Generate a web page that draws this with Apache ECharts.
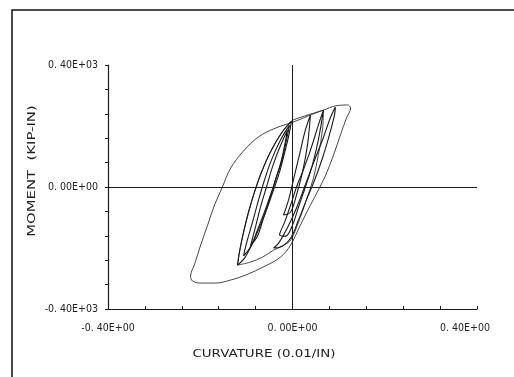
<!DOCTYPE html>
<html>
<head>
<meta charset="utf-8">
<script src="https://cdn.jsdelivr.net/npm/echarts@6/dist/echarts.min.js"></script>
<style>
  html, body { margin: 0; padding: 0; background: #fff; }
  #chart { width: 514px; height: 377px; }
</style>
</head>
<body>
<div id="chart"></div>
<script>
// moment-curvature hysteresis, values
const xLabelValues = [-0.4, 0, 0.4];
const xLabelTexts = ["-0. 40E+00", "0. 00E+00", "0. 40E+00"];
const yLabelValues = [-400, 0, 400];
const yLabelTexts = ["-0. 40E+03", "0. 00E+00", "0. 40E+03"];

const outerLoop = [
  [0.121, 269], [0.093, 266], [0.067, 252], [0.039, 236], [0.007, 216], [-0.037, 193],
  [-0.074, 164], [-0.108, 115], [-0.134, 62], [-0.152, 0], [-0.169, -59], [-0.184, -125],
  [-0.199, -190], [-0.212, -252], [-0.221, -292], [-0.217, -308], [-0.199, -315], [-0.167, -315],
  [-0.134, -305], [-0.102, -289], [-0.059, -259], [-0.026, -230], [-0.004, -190], [0.017, -125],
  [0.039, -59], [0.056, -10], [0.072, 39], [0.089, 105], [0.104, 171], [0.117, 226],
  [0.126, 259], [0.121, 269]
];
const midLoop = [
  [0.067, 252], [0.039, 239], [0.013, 226], [-0.002, 216], [-0.024, 177], [-0.048, 115],
  [-0.067, 49], [-0.082, -16], [-0.095, -82], [-0.106, -148], [-0.115, -213], [-0.119, -256],
  [-0.091, -246], [-0.065, -230], [-0.041, -207], [-0.022, -193], [-0.004, -174], [0.013, -115],
  [0.030, -43], [0.0455, 30], [0.056, 105], [0.065, 187], [0.067, 252]
];
const leftLoop1 = [
  [-0.0022, 216], [-0.0238, 177], [-0.0477, 115], [-0.0672, 49], [-0.0824, -16], [-0.0954, -82],
  [-0.1062, -148], [-0.1149, -213], [-0.1192, -256], [-0.1041, -233], [-0.0867, -184], [-0.0694, -125],
  [-0.0542, -66], [-0.0412, -10], [-0.0282, 49], [-0.0173, 111], [-0.0087, 164], [-0.0022, 216]
];
const leftLoop2 = [
  [-0.0065, 203], [-0.026, 154], [-0.0455, 89], [-0.0607, 23], [-0.0737, -43], [-0.0867, -115],
  [-0.0997, -184], [-0.1062, -226], [-0.0911, -197], [-0.0759, -141], [-0.0607, -82], [-0.0477, -26],
  [-0.0347, 33], [-0.0217, 95], [-0.013, 154], [-0.0065, 203]
];
const leftLoop3 = [
  [-0.0108, 187], [-0.0282, 128], [-0.0434, 66], [-0.0564, 0], [-0.0694, -66], [-0.0802, -131],
  [-0.0911, -193], [-0.0759, -161], [-0.0629, -102], [-0.0499, -43], [-0.0369, 23], [-0.0238, 89],
  [-0.0108, 187]
];
const rightLoop1 = [
  [0.093, 262], [0.082, 226], [0.065, 154], [0.0455, 79], [0.026, 0], [0.0087, -69],
  [-0.011, -134], [-0.030, -184], [-0.041, -200], [-0.026, -197], [-0.004, -167], [0.013, -108],
  [0.030, -43], [0.048, 23], [0.065, 95], [0.080, 171], [0.091, 236], [0.093, 262]
];
const rightLoop2 = [
  [0.067, 252], [0.056, 203], [0.039, 121], [0.0217, 49], [0.0087, 0], [-0.004, -59],
  [-0.017, -115], [-0.028, -157], [-0.015, -161], [0, -125], [0.013, -66], [0.028, 0],
  [0.043, 72], [0.056, 154], [0.067, 252]
];
const rightLoop3 = [
  [0.039, 236], [0.028, 187], [0.015, 105], [0.002, 23], [-0.0087, -43], [-0.0195, -92],
  [-0.004, -82], [0.0087, -26], [0.0217, 49], [0.0325, 138], [0.039, 236]
];

const INK = "#1a1a1a";
const FONT = "DejaVu Sans Condensed, DejaVu Sans";

function pick(values, texts, lastRich) {
  return (v) => {
    for (let i = 0; i < values.length; i++) {
      if (Math.abs(v - values[i]) < 1e-6) {
        return lastRich && i === values.length - 1 ? "{r|" + texts[i] + "}" : texts[i];
      }
    }
    return "";
  };
}

function loop(data, width, color) {
  return {
    type: "line", data, showSymbol: false, smooth: 0.35, silent: true,
    lineStyle: { color: color || INK, width: width || 1 },
  };
}

const chart = echarts.init(document.getElementById("chart"));
const series = [
  loop(outerLoop, 0.9, "#333"),
  loop(midLoop, 0.9, "#333"),
  loop(leftLoop1, 1.1), loop(leftLoop2, 1.1), loop(leftLoop3, 1.1),
  loop(rightLoop1, 1.1), loop(rightLoop2, 1.1), loop(rightLoop3, 1.1),
];
// zero lines through the origin
series[0].markLine = {
  silent: true, symbol: "none", label: { show: false },
  lineStyle: { color: INK, type: "solid", width: 1 },
  data: [{ xAxis: 0 }, { yAxis: 0 }],
};

const tickFont = { color: "#222", fontFamily: FONT, fontSize: 10.5 };

chart.setOption({
  animation: false,
  backgroundColor: "#fff",
  grid: { left: 108, right: 37, top: 65, bottom: 68 },
  xAxis: {
    type: "value", min: -0.4, max: 0.4, interval: 0.08,
    axisLine: { onZero: false, lineStyle: { color: INK, width: 1.2 } },
    axisTick: { inside: true, length: 3, lineStyle: { color: INK } },
    splitLine: { show: false },
    axisLabel: Object.assign({ formatter: pick(xLabelValues, xLabelTexts, true), margin: 14,
      rich: { r: Object.assign({ padding: [0, 24, 0, 0] }, tickFont) } }, tickFont),
  },
  yAxis: {
    type: "value", min: -400, max: 400, interval: 80,
    axisLine: { onZero: false, lineStyle: { color: INK, width: 1.2 } },
    axisTick: { inside: false, length: 3, lineStyle: { color: INK } },
    splitLine: { show: false },
    axisLabel: Object.assign({ formatter: pick(yLabelValues, yLabelTexts), margin: 10 }, tickFont),
  },
  graphic: [
    { type: "polyline", shape: { points: [[12, 377], [12, 10], [514, 10]] },
      style: { stroke: "#111", lineWidth: 1.5, fill: null } },
    { type: "text", x: 32, y: 171, rotation: Math.PI / 2, scaleX: 1.35,
      style: { text: "MOMENT  (KIP-IN)", fill: "#222", font: "11px DejaVu Sans", align: "center", verticalAlign: "middle" } },
    { type: "text", x: 264, y: 354, scaleX: 1.22,
      style: { text: "CURVATURE (0.01/IN)", fill: "#222", font: "11px DejaVu Sans", align: "center", verticalAlign: "middle" } },
  ],
  series,
});
</script>
</body>
</html>
